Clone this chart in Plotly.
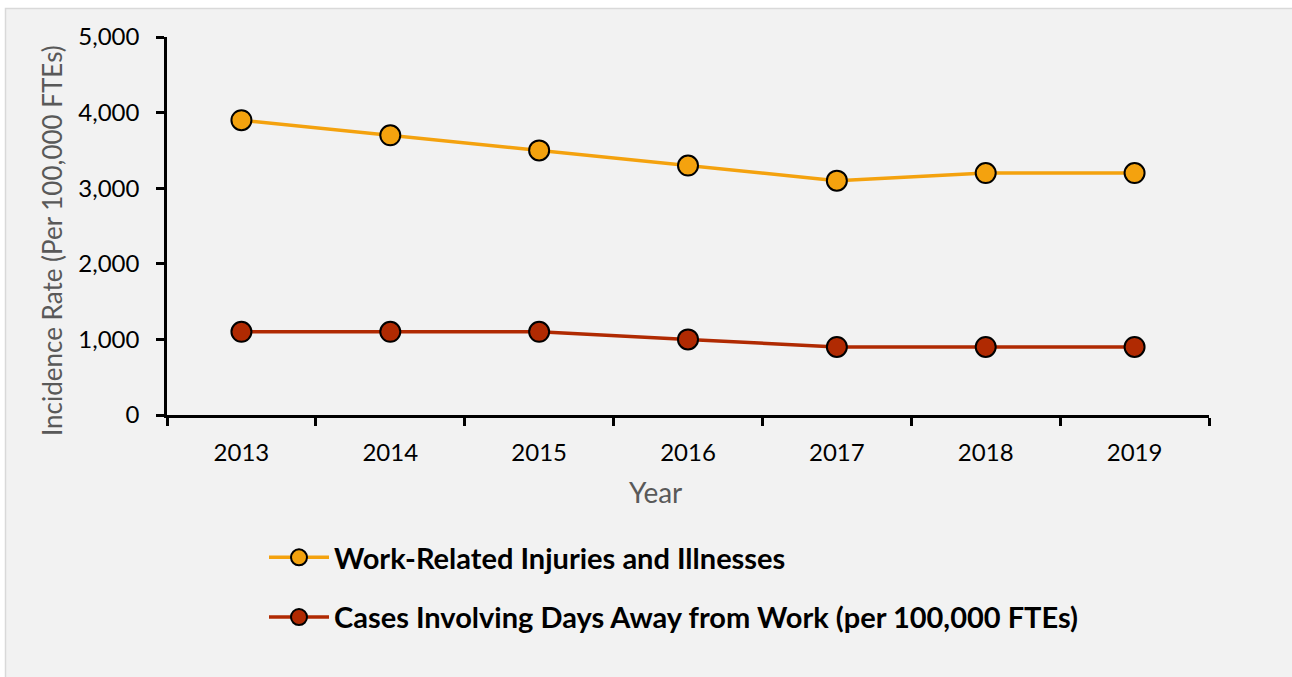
import plotly.graph_objects as go

years = ["2013", "2014", "2015", "2016", "2017", "2018", "2019"]
injuries = [3900, 3700, 3500, 3300, 3100, 3200, 3200]
days_away = [1100, 1100, 1100, 1000, 900, 900, 900]
series_names = ["Work-Related Injuries and Illnesses",
                "Cases Involving Days Away from Work (per 100,000 FTEs)"]
x_title = "Year"
y_title = "Incidence Rate (Per 100,000 FTEs)"

W, H = 1292, 677
L, R, T, B = 167, 1209, 37, 415
pw, ph = R - L, B - T

def px_x(p):
    return (p - L) / pw

def px_y(p):
    return (B - p) / ph

fig = go.Figure()
fig.add_trace(go.Scatter(
    x=years, y=injuries, name=series_names[0], mode="lines+markers",
    line=dict(color="#F4A20E", width=3.5),
    marker=dict(size=20, color="#F4A20E", line=dict(color="black", width=2)),
    legendgroup="a"))
fig.add_trace(go.Scatter(
    x=years, y=days_away, name=series_names[1], mode="lines+markers",
    line=dict(color="#B02A02", width=3.5),
    marker=dict(size=20, color="#B02A02", line=dict(color="black", width=2)),
    legendgroup="b"))

fig.add_shape(type="rect", xref="paper", yref="paper",
              x0=px_x(5.5), x1=px_x(1310), y0=px_y(700), y1=px_y(8.5),
              fillcolor="#F2F2F2", line=dict(color="#D9D9D9", width=1.5),
              layer="below")

fig.add_annotation(text=x_title, xref="paper", yref="paper",
                   x=px_x(655), y=px_y(492), xanchor="center", yanchor="middle",
                   showarrow=False, font=dict(family="Lato", size=28, color="#595959"))
fig.add_annotation(text=y_title, xref="paper", yref="paper", textangle=-90,
                   x=px_x(52), y=px_y(241), xanchor="center", yanchor="middle",
                   showarrow=False, font=dict(family="Lato", size=26, color="#595959"))

fig.update_layout(
    width=W, height=H,
    margin=dict(l=L, r=W - R, t=T, b=H - B, pad=0),
    paper_bgcolor="white", plot_bgcolor="rgba(0,0,0,0)",
    font=dict(family="Lato", size=24, color="black"),
    showlegend=True,
    legend=dict(x=px_x(264), y=px_y(532), xanchor="left", yanchor="top",
                bgcolor="rgba(0,0,0,0)", tracegroupgap=19,
                font=dict(family="Lato", size=29, color="black", weight="bold"),
                itemwidth=60),
    xaxis=dict(type="category", range=[-0.5, len(years) - 0.5], autorange=False,
               showline=True, linecolor="black", linewidth=2.5,
               ticks="outside", tickson="boundaries", ticklen=8, tickwidth=2.5,
               tickcolor="black", showgrid=False, zeroline=False,
               ticklabelstandoff=14, tickfont=dict(size=24)),
    yaxis=dict(range=[0, 5000], dtick=1000, tickformat=",", showline=True,
               linecolor="black", linewidth=2.5, ticks="outside", ticklen=8,
               tickwidth=2.5, tickcolor="black", showgrid=False, zeroline=False,
               ticklabelstandoff=12, tickfont=dict(size=24)),
)

fig.write_html(
    "out.html",
    config={"displayModeBar": False},
    post_script="document.body.style.margin='0';document.body.style.overflow='hidden';",
)
